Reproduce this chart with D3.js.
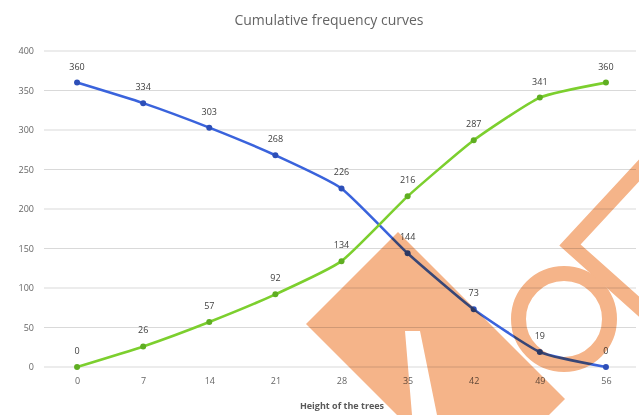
<!DOCTYPE html>
<html>
<head>
<meta charset="utf-8">
<script src="https://cdn.jsdelivr.net/npm/d3@7"></script>
<style>
  html, body { margin: 0; padding: 0; background: #fff; }
  svg { display: block; font-family: "Open Sans", Lato, "Liberation Sans", sans-serif; }
</style>
</head>
<body>
<svg id="chart" width="639" height="415"></svg>
<script>
// Class limits (upper bounds) of tree heights
const heights = [0, 7, 14, 21, 28, 35, 42, 49, 56];
// "More than" cumulative frequency
const moreThan = [360, 334, 303, 268, 226, 144, 73, 19, 0];
// "Less than" cumulative frequency
const lessThan = [0, 26, 57, 92, 134, 216, 287, 341, 360];
const yTicks = [0, 50, 100, 150, 200, 250, 300, 350, 400];

const W = 639, H = 415;
const margin = { left: 44, right: 0, top: 51, bottom: 48 };
const svg = d3.select("#chart");

const x = d3.scalePoint()
  .domain(heights)
  .range([margin.left, W - margin.right])
  .padding(0.5);

const y = d3.scaleLinear()
  .domain([0, 400])
  .range([H - margin.bottom, margin.top]);

// Title
svg.append("text")
  .attr("x", 329).attr("y", 25)
  .attr("text-anchor", "middle")
  .attr("font-size", 14)
  .attr("fill", "#646464")
  .text("Cumulative frequency curves");

// Horizontal gridlines
svg.append("g")
  .selectAll("line")
  .data(yTicks)
  .join("line")
  .attr("x1", margin.left).attr("x2", W - 3)
  .attr("y1", d => y(d)).attr("y2", d => y(d))
  .attr("stroke", "#d9d9d9").attr("stroke-width", 1);

// Y axis labels
const yAxis = svg.append("g")
  .attr("transform", `translate(${margin.left - 10},0)`)
  .call(d3.axisLeft(y).tickValues(yTicks).tickSize(0).tickPadding(0));
yAxis.select(".domain").remove();
yAxis.selectAll("text")
  .attr("font-size", 9).attr("fill", "#666")
  .attr("font-family", "'Open Sans', Lato, sans-serif");

// X axis labels
const xAxis = svg.append("g")
  .attr("transform", `translate(0,${y(0) + 11})`)
  .call(d3.axisBottom(x).tickSize(0).tickPadding(0));
xAxis.select(".domain").remove();
xAxis.selectAll("text")
  .attr("font-size", 9).attr("fill", "#666")
  .attr("font-family", "'Open Sans', Lato, sans-serif");

// X axis title
svg.append("text")
  .attr("x", 342).attr("y", 409)
  .attr("text-anchor", "middle")
  .attr("font-size", 9)
  .attr("font-weight", "bold")
  .attr("fill", "#595959")
  .text("Height of the trees");

const line = d3.line()
  .x((d, i) => x(heights[i]))
  .y(d => y(d))
  .curve(d3.curveCardinal.tension(0.5));

const series = [
  { values: moreThan, color: "#3a63dc", marker: "#2d4fb8" },
  { values: lessThan, color: "#7ccf2e", marker: "#5fae22" }
];

series.forEach(s => {
  svg.append("path")
    .datum(s.values)
    .attr("d", line)
    .attr("fill", "none")
    .attr("stroke", s.color)
    .attr("stroke-width", 2.6)
    .attr("stroke-linejoin", "round");

  svg.append("g")
    .selectAll("circle")
    .data(s.values)
    .join("circle")
    .attr("cx", (d, i) => x(heights[i]))
    .attr("cy", d => y(d))
    .attr("r", 3)
    .attr("fill", s.marker);

  svg.append("g")
    .selectAll("text")
    .data(s.values)
    .join("text")
    .attr("x", (d, i) => x(heights[i]))
    .attr("y", d => y(d) - 13)
    .attr("text-anchor", "middle")
    .attr("font-size", 9)
    .attr("fill", "#404040")
    .text(d => d);
});

// Orange overlay mark in the lower right
const mark = svg.append("g")
  .style("mix-blend-mode", "multiply")
  .attr("fill", "#f5b489")
  .attr("stroke", "#f5b489");

mark.append("path")
  .attr("stroke", "none")
  .attr("d", "M306,324 L398,232 L565,399 L549,415 L437,415 L420,331 L405,331 L412,415 L397,415 Z");

mark.append("circle")
  .attr("cx", 564).attr("cy", 319).attr("r", 45.5)
  .attr("fill", "none").attr("stroke-width", 15);

mark.append("path")
  .attr("fill", "none").attr("stroke-width", 15)
  .attr("stroke-linejoin", "miter")
  .attr("d", "M645,164 L570,245 L645,312");
</script>
</body>
</html>
